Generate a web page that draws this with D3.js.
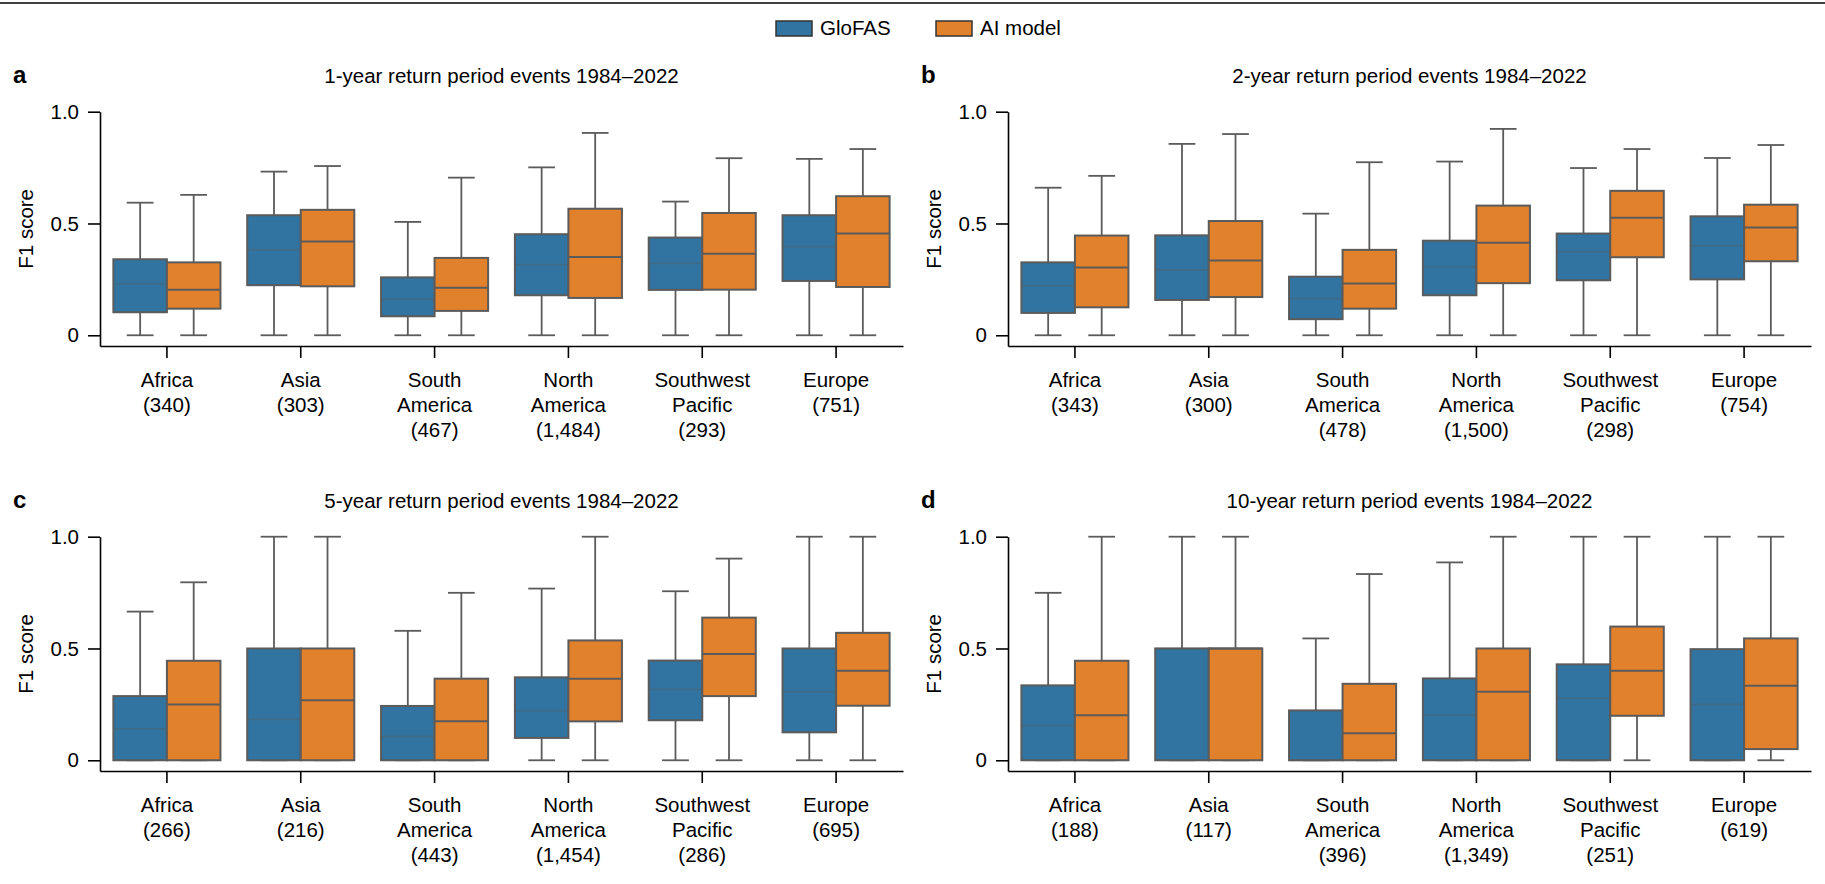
<!DOCTYPE html>
<html>
<head>
<meta charset="utf-8">
<script src="https://cdn.jsdelivr.net/npm/d3@7"></script>
<style>
body { margin: 0; background: #fff; }
text { font-family: "Liberation Sans", Arial, Helvetica, sans-serif; fill: #000; }
</style>
</head>
<body>
<svg id="chart" width="1825" height="884"></svg>
<script>
// categories and labels
const regions = ["Africa", "Asia", "South America", "North America", "Southwest Pacific", "Europe"];
const regionLabels = [["Africa"], ["Asia"], ["South", "America"], ["North", "America"], ["Southwest", "Pacific"], ["Europe"]];
const models = ["GloFAS", "AI model"];
const colors = ["#3274a1", "#e1812c"];
const letters = ["a", "b", "c", "d"];
const titles = [
	"1-year return period events 1984\u20132022",
	"2-year return period events 1984\u20132022",
	"5-year return period events 1984\u20132022",
	"10-year return period events 1984\u20132022"
];
const yTicks = [0, 0.5, 1.0];

// number of events per region
const counts1 = ["340", "303", "467", "1,484", "293", "751"];
const counts2 = ["343", "300", "478", "1,500", "298", "754"];
const counts5 = ["266", "216", "443", "1,454", "286", "695"];
const counts10 = ["188", "117", "396", "1,349", "251", "619"];

// box stats per region: [lower whisker, q1, median, q3, upper whisker]
const glofas1 = [[0, 0.103, 0.23, 0.340, 0.593], [0, 0.224, 0.382, 0.537, 0.732], [0, 0.085, 0.161, 0.259, 0.507],
	[0, 0.179, 0.315, 0.452, 0.751], [0, 0.203, 0.322, 0.437, 0.598], [0, 0.243, 0.397, 0.537, 0.789]];
const ai1 = [[0, 0.119, 0.204, 0.326, 0.628], [0, 0.219, 0.419, 0.561, 0.757], [0, 0.109, 0.212, 0.346, 0.705],
	[0, 0.167, 0.350, 0.566, 0.905], [0, 0.204, 0.365, 0.547, 0.792], [0, 0.216, 0.455, 0.622, 0.833]];

const glofas2 = [[0, 0.100, 0.222, 0.326, 0.660], [0, 0.158, 0.292, 0.447, 0.856], [0, 0.072, 0.164, 0.262, 0.544],
	[0, 0.179, 0.306, 0.423, 0.777], [0, 0.246, 0.374, 0.455, 0.748], [0, 0.250, 0.400, 0.532, 0.793]];
const ai2 = [[0, 0.125, 0.303, 0.446, 0.713], [0, 0.171, 0.334, 0.511, 0.900], [0, 0.119, 0.231, 0.382, 0.774],
	[0, 0.233, 0.414, 0.580, 0.923], [0, 0.349, 0.526, 0.646, 0.833], [0, 0.331, 0.482, 0.584, 0.851]];

const glofas5 = [[0, 0, 0.140, 0.287, 0.665], [0, 0, 0.183, 0.5, 1.0], [0, 0, 0.106, 0.243, 0.579],
	[0, 0.100, 0.222, 0.371, 0.768], [0, 0.179, 0.317, 0.446, 0.756], [0, 0.125, 0.307, 0.5, 1.0]];
const ai5 = [[0, 0, 0.250, 0.445, 0.796], [0, 0, 0.268, 0.5, 1.0], [0, 0, 0.174, 0.365, 0.749],
	[0, 0.174, 0.365, 0.536, 1.0], [0, 0.287, 0.475, 0.638, 0.902], [0, 0.244, 0.400, 0.570, 1.0]];

const glofas10 = [[0, 0, 0.155, 0.335, 0.749], [0, 0, 0.5, 0.5, 1.0], [0, 0, 0, 0.223, 0.545],
	[0, 0, 0.201, 0.366, 0.885], [0, 0, 0.277, 0.429, 1.0], [0, 0, 0.25, 0.497, 1.0]];
const ai10 = [[0, 0, 0.201, 0.445, 1.0], [0, 0, 0.5, 0.5, 1.0], [0, 0, 0.121, 0.342, 0.833],
	[0, 0, 0.307, 0.5, 1.0], [0, 0.199, 0.400, 0.598, 1.0], [0, 0.05, 0.333, 0.545, 1.0]];

const panels = [
	{ counts: counts1, series: [glofas1, ai1] },
	{ counts: counts2, series: [glofas2, ai2] },
	{ counts: counts5, series: [glofas5, ai5] },
	{ counts: counts10, series: [glofas10, ai10] }
];

const svg = d3.select("#chart");
const fontSize = 20.5,
	lineCol = "#5b5b5b",
	plotW = 803,
	plotH = 234.3;

// rule across the top
svg.append("line")
	.attr("x1", 0).attr("x2", 1825)
	.attr("y1", 3).attr("y2", 3)
	.attr("stroke", "#000").attr("stroke-width", 1.5);

// legend
var legendX = [776, 936];
models.forEach((m, i) => {
	svg.append("rect")
		.attr("x", legendX[i]).attr("y", 21)
		.attr("width", 36).attr("height", 15)
		.attr("fill", colors[i])
		.attr("stroke", "#333").attr("stroke-width", 1.5);
	svg.append("text")
		.attr("x", legendX[i] + 44).attr("y", 35)
		.attr("font-size", fontSize)
		.text(m);
});

panels.forEach((p, i) => {
	var col = i % 2,
		row = Math.floor(i / 2),
		left = 100 + col * 908,
		top = 111.7 + row * 425;

	var g = svg.append("g").attr("transform", `translate(${left},${top})`);

	var x = d3.scaleBand().domain(regions).range([0, plotW]);
	var xm = d3.scaleBand().domain(models).range([x.bandwidth() * 0.1, x.bandwidth() * 0.9]);
	var y = d3.scaleLinear().domain([-0.048, 1]).range([plotH, 0]);
	var bw = xm.bandwidth();

	// panel letter and title
	g.append("text")
		.attr("x", -87).attr("y", -29.2)
		.attr("font-size", 24).attr("font-weight", "bold")
		.text(letters[i]);
	g.append("text")
		.attr("x", plotW / 2).attr("y", -29.2)
		.attr("text-anchor", "middle")
		.attr("font-size", fontSize)
		.text(titles[i]);

	// boxes
	models.forEach((m, mi) => {
		var stats = p.series[mi];
		regions.forEach((r, ri) => {
			var s = stats[ri],
				x0 = x(r) + xm(m),
				cx = x0 + bw / 2;
			var bg = g.append("g");

			// whiskers and caps
			[[s[3], s[4]], [s[1], s[0]]].forEach(w => {
				bg.append("line")
					.attr("x1", cx).attr("x2", cx)
					.attr("y1", y(w[0])).attr("y2", y(w[1]))
					.attr("stroke", lineCol).attr("stroke-width", 1.8);
				bg.append("line")
					.attr("x1", cx - bw / 4).attr("x2", cx + bw / 4)
					.attr("y1", y(w[1])).attr("y2", y(w[1]))
					.attr("stroke", lineCol).attr("stroke-width", 1.8);
			});

			bg.append("rect")
				.attr("x", x0).attr("y", y(s[3]))
				.attr("width", bw).attr("height", y(s[1]) - y(s[3]))
				.attr("fill", colors[mi])
				.attr("stroke", lineCol).attr("stroke-width", 2);

			// GloFAS medians show only faintly in the figure
			bg.append("line")
				.attr("x1", x0).attr("x2", x0 + bw)
				.attr("y1", y(s[2])).attr("y2", y(s[2]))
				.attr("stroke", lineCol).attr("stroke-width", 2)
				.attr("stroke-opacity", mi === 0 ? 0.3 : 1);
		});
	});

	// y axis
	var ya = g.append("g")
		.call(d3.axisLeft(y)
			.tickValues(yTicks)
			.tickFormat(d => d === 0 ? "0" : d3.format(".1f")(d))
			.tickSize(12).tickPadding(9).tickSizeOuter(0));

	// x axis with multi-line labels
	var xa = g.append("g")
		.attr("transform", `translate(0,${plotH})`)
		.call(d3.axisBottom(x).tickSize(12).tickSizeOuter(0).tickFormat(""));

	[ya, xa].forEach(a => {
		a.attr("font-size", null).attr("font-family", null);
		a.select(".domain").attr("stroke", "#000").attr("stroke-width", 1.6);
		a.selectAll(".tick line").attr("stroke", "#000").attr("stroke-width", 1.6);
	});
	ya.selectAll(".tick text").attr("font-size", fontSize).attr("fill", "#000");

	regions.forEach((r, ri) => {
		var lines = regionLabels[ri].concat([`(${p.counts[ri]})`]);
		var t = g.append("text")
			.attr("text-anchor", "middle")
			.attr("font-size", fontSize);
		lines.forEach((l, li) => {
			t.append("tspan")
				.attr("x", x(r) + x.bandwidth() / 2)
				.attr("y", plotH + 41.3 + li * 25)
				.text(l);
		});
	});

	g.append("text")
		.attr("transform", `translate(-67.5,${plotH / 2}) rotate(-90)`)
		.attr("text-anchor", "middle")
		.attr("font-size", fontSize)
		.text("F1 score");
});
</script>
</body>
</html>
